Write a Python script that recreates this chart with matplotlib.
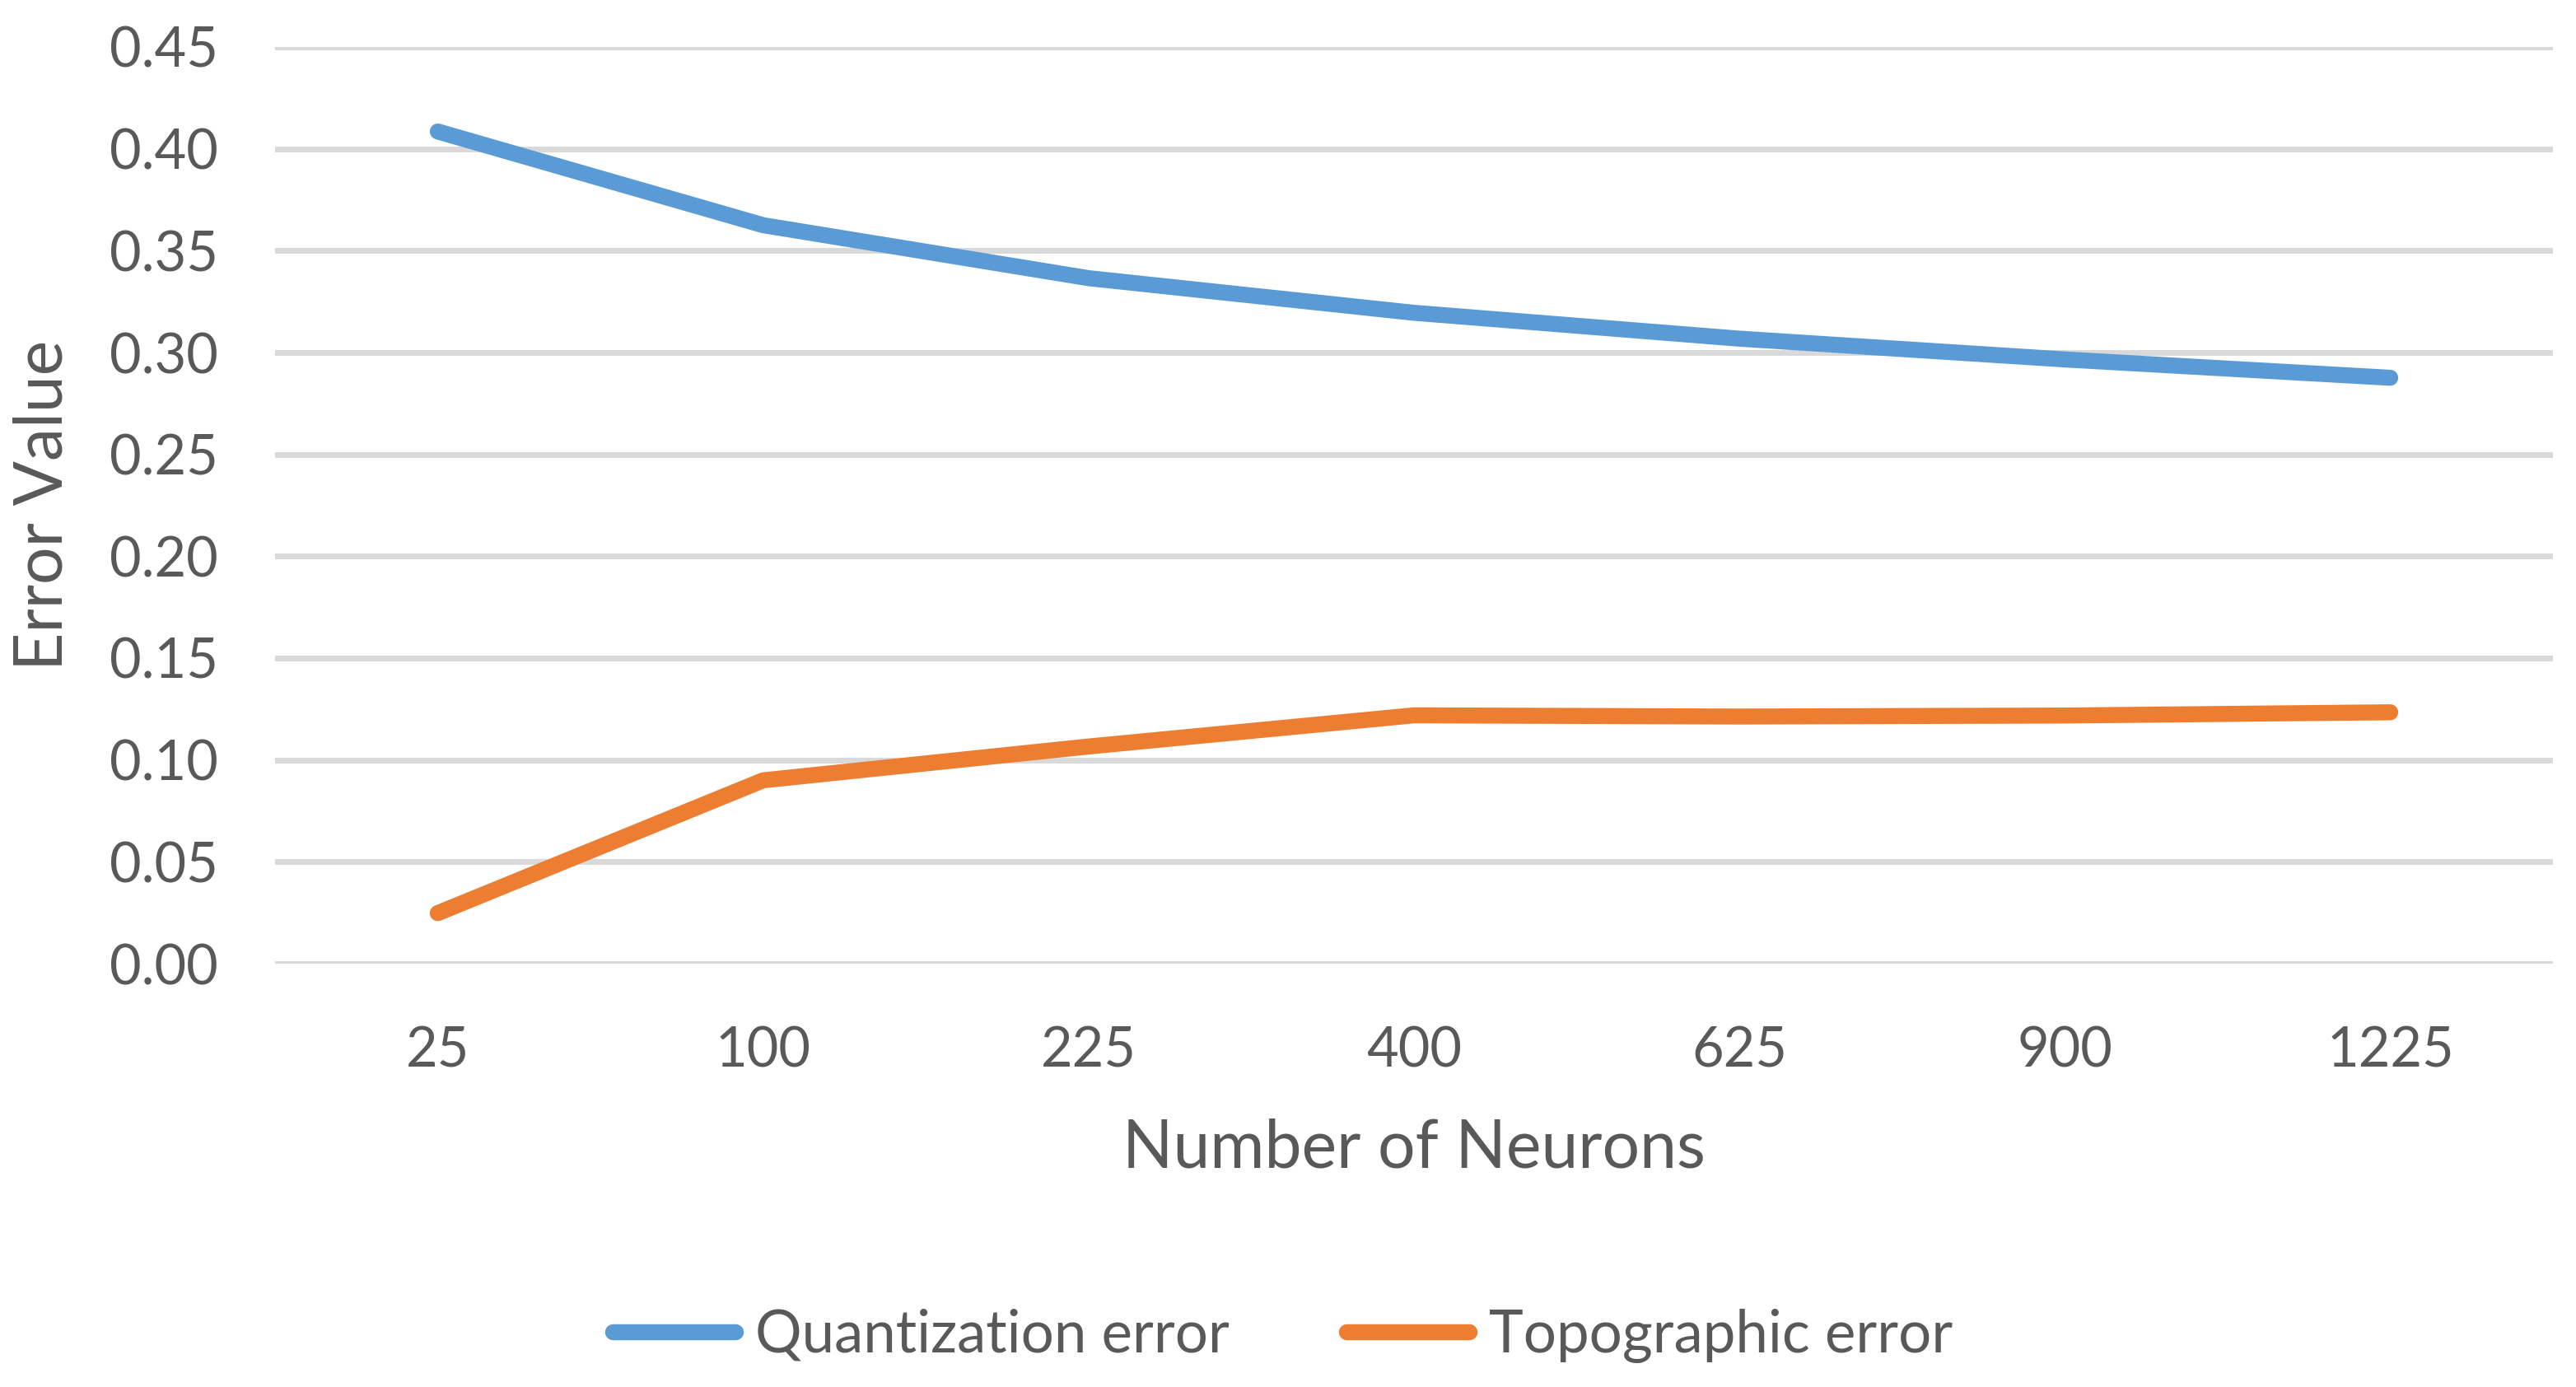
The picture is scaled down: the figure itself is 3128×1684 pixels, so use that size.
import numpy as np
import matplotlib
matplotlib.use("Agg")
import matplotlib.pyplot as plt

categories = ["25", "100", "225", "400", "625", "900", "1225"]
quantization_error = [0.4085, 0.3625, 0.3365, 0.3195, 0.3068, 0.2966, 0.2876]
topographic_error = [0.0248, 0.0900, 0.1066, 0.1219, 0.1213, 0.1218, 0.1234]
series_names = ["Quantization error", "Topographic error"]
yticks = [0.00, 0.05, 0.10, 0.15, 0.20, 0.25, 0.30, 0.35, 0.40, 0.45]

plt.rcParams['font.family'] = ['Lato', 'DejaVu Sans']
text_color = "#595959"

W, H = 3128, 1684
fig = plt.figure(figsize=(W / 200, H / 200), dpi=200)
left, right, top, bottom = 334, 3100, 57, 1170
ax = fig.add_axes([left / W, 1 - bottom / H, (right - left) / W, (bottom - top) / H])

x = np.arange(len(categories))
ax.plot(x, quantization_error, color="#5B9BD5", lw=7.0, solid_capstyle="round",
        solid_joinstyle="round", label=series_names[0], zorder=3)
ax.plot(x, topographic_error, color="#ED7D31", lw=7.0, solid_capstyle="round",
        solid_joinstyle="round", label=series_names[1], zorder=3)

ax.set_xlim(-0.5, len(categories) - 0.5)
ax.set_ylim(0, 0.45)
ax.set_xticks(x)
ax.set_xticklabels(categories)
ax.set_yticks(yticks)
ax.set_yticklabels([f"{v:.2f}" for v in yticks])
ax.tick_params(axis="both", length=0, labelsize=24, colors=text_color)
ax.tick_params(axis="y", pad=25)
ax.tick_params(axis="x", pad=27)
ax.grid(axis="y", color="#D9D9D9", lw=2.5, zorder=0)
ax.set_axisbelow(True)
for s in ax.spines.values():
    s.set_visible(False)

ax.set_xlabel("Number of Neurons", fontsize=29, color=text_color)
ax.xaxis.label.set_va("center")
ax.xaxis.set_label_coords(0.5, (bottom - 1394) / (bottom - top))
ax.set_ylabel("Error Value", fontsize=29, color=text_color)
ax.yaxis.label.set_va("center")
ax.yaxis.set_label_coords((53 - left) / (right - left), 0.5)

leg = fig.legend(loc="center", bbox_to_anchor=(0.498, 1 - 1622 / H), ncol=2,
                 frameon=False, fontsize=25.5, handlelength=2.1, handletextpad=0.35,
                 columnspacing=2.0)
for t in leg.get_texts():
    t.set_color(text_color)

fig.savefig("out.png", dpi=200)
